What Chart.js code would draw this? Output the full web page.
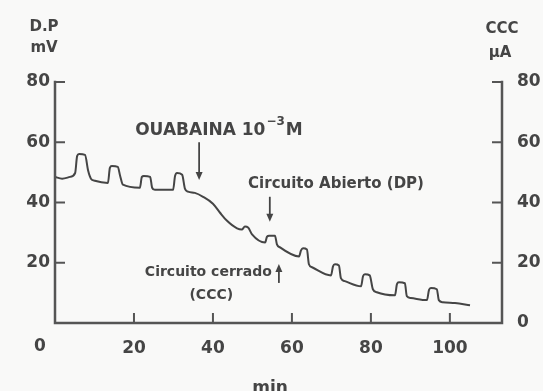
<!DOCTYPE html>
<html>
<head>
<meta charset="utf-8">
<script src="https://cdn.jsdelivr.net/npm/chart.js@4/dist/chart.umd.min.js"></script>
<style>
    body { margin: 0; background: #f9f9f8; }
    canvas { display: block; }
</style>
</head>
<body>
<canvas id="dpChart" width="543" height="391"></canvas>
<script>
// tiempo (min) y potencial de membrana / corriente de cortocircuito
const minutos = [0, 1.8, 3.8, 5.1, 5.6, 6.1, 7.6, 8.4, 9.1, 10.1, 13.4, 13.9, 14.4, 15.9, 16.5, 17.2,
    21.5, 22.0, 22.5, 24.1, 24.6, 25.3, 29.9, 30.4, 30.9, 32.2, 32.9, 33.7, 35.4, 37.5, 40.0, 41.8,
    43.5, 46.1, 47.3, 48.1, 48.9, 49.9, 53.2, 53.7, 54.2, 55.7, 56.2, 57.0, 61.8, 62.3, 62.8, 63.8,
    64.3, 65.1, 69.9, 70.4, 70.9, 71.9, 72.4, 73.4, 77.5, 78.0, 78.5, 79.7, 80.5, 81.5, 86.1, 86.6,
    87.1, 88.6, 89.1, 90.1, 94.2, 94.7, 95.2, 96.7, 97.2, 98.2, 101.3, 105.1];
const dpValores = [48.5, 47.9, 48.5, 49.8, 55.4, 56.1, 55.8, 50.5, 47.9, 47.2, 46.5, 51.5, 52.1, 51.8, 48.8, 45.9,
    44.9, 48.5, 48.8, 48.5, 44.9, 44.2, 44.2, 48.8, 49.8, 49.2, 44.6, 43.6, 43.2, 41.9, 39.6, 36.6,
    34.0, 31.4, 31.0, 32.0, 31.7, 29.4, 26.7, 28.7, 29.0, 29.0, 26.1, 25.1, 22.1, 24.1, 24.8, 24.4,
    19.5, 18.5, 15.8, 18.8, 19.5, 19.1, 14.9, 13.9, 12.2, 15.5, 16.2, 15.8, 11.2, 10.2, 9.2, 12.9,
    13.5, 13.2, 8.9, 8.3, 7.6, 10.9, 11.6, 11.2, 7.6, 6.9, 6.6, 5.9];

const xTicks = [20, 40, 60, 80, 100];
const yTicksLeft = [20, 40, 60, 80];
const yTicksRight = [0, 20, 40, 60, 80];

const INK = '#454545';
const AXIS = '#555';
const FONT = 'DejaVu Sans';

/**
 * Draws the axis frame with inward ticks, the labels and the arrows.
 */
const framePlugin = {
    id: 'frame',
    beforeDraw(chart) {
        const ctx = chart.ctx;
        ctx.save();
        ctx.fillStyle = '#f9f9f8';
        ctx.fillRect(0, 0, chart.width, chart.height);
        ctx.restore();
    },
    afterDraw(chart) {
        const ctx = chart.ctx;
        const x = chart.scales.x;
        const y = chart.scales.y;
        const y2 = chart.scales.y2;
        const left = x.getPixelForValue(0);
        const right = x.right;
        const top = y.getPixelForValue(80);
        const bottom = y.getPixelForValue(0);
        const tick = 10;

        ctx.save();
        ctx.strokeStyle = AXIS;
        ctx.lineWidth = 2.5;
        ctx.lineCap = 'square';
        ctx.beginPath();
        ctx.moveTo(left, top);
        ctx.lineTo(left, bottom);
        ctx.lineTo(right, bottom);
        ctx.lineTo(right, top);
        ctx.stroke();

        ctx.lineWidth = 2;
        ctx.lineCap = 'butt';
        ctx.beginPath();
        yTicksLeft.forEach(v => {
            const py = y.getPixelForValue(v);
            ctx.moveTo(left, py);
            ctx.lineTo(left + tick, py);
        });
        yTicksLeft.forEach(v => {
            const py = y2.getPixelForValue(v);
            ctx.moveTo(right, py);
            ctx.lineTo(right - tick, py);
        });
        xTicks.forEach(v => {
            const px = x.getPixelForValue(v);
            ctx.moveTo(px, bottom);
            ctx.lineTo(px, bottom - tick);
        });
        ctx.stroke();

        ctx.fillStyle = INK;
        ctx.textAlign = 'center';
        ctx.textBaseline = 'middle';
        ctx.font = `bold 17px "${FONT}"`;
        ctx.fillText('0', 40, 347);
        ctx.textBaseline = 'alphabetic';
        ctx.fillText('min', 270, 393);

        ctx.font = `bold 15px "${FONT}"`;
        ctx.fillText('D.P', 44, 31);
        ctx.fillText('mV', 44, 52);
        ctx.fillText('CCC', 502, 33);
        ctx.fillText('\u00b5A', 500, 57);

        // OUABAINA 10^-3 M
        const px = v => x.getPixelForValue(v);
        const py = v => y.getPixelForValue(v);
        ctx.textAlign = 'left';
        ctx.font = `bold 17px "${FONT}"`;
        let tx = px(20.3);
        const base = py(62.5);
        ctx.fillText('OUABAINA 10', tx, base);
        tx += ctx.measureText('OUABAINA 10').width + 1;
        ctx.font = `bold 12px "${FONT}"`;
        ctx.fillText('\u22123', tx, base - 10);
        tx += ctx.measureText('\u22123').width + 1;
        ctx.font = `bold 17px "${FONT}"`;
        ctx.fillText('M', tx, base);

        ctx.font = `bold 15px "${FONT}"`;
        ctx.fillText('Circuito Abierto (DP)', px(48.9), py(44.9));
        ctx.textAlign = 'right';
        ctx.font = `bold 14px "${FONT}"`;
        ctx.fillText('Circuito cerrado', px(54.9), py(15.6));
        ctx.fillText('(CCC)', px(45.1), py(7.9));

        drawArrow(ctx, px(36.5), py(60), py(47.5));
        drawArrow(ctx, px(54.4), py(41.9), py(33.6));
        drawArrow(ctx, px(56.7), py(13.3), py(19.6));
        ctx.restore();
    }
};

/**
 * Vertical arrow from y0 to y1, head at y1.
 */
function drawArrow(ctx, x, y0, y1) {
    const dir = y1 > y0 ? 1 : -1;
    ctx.strokeStyle = INK;
    ctx.fillStyle = INK;
    ctx.lineWidth = 1.8;
    ctx.beginPath();
    ctx.moveTo(x, y0);
    ctx.lineTo(x, y1 - dir * 5);
    ctx.stroke();
    ctx.beginPath();
    ctx.moveTo(x, y1);
    ctx.lineTo(x - 3.5, y1 - dir * 8);
    ctx.lineTo(x + 3.5, y1 - dir * 8);
    ctx.closePath();
    ctx.fill();
}

const tickFont = { family: FONT, size: 17, weight: 'bold' };

new Chart(document.getElementById('dpChart'), {
    type: 'line',
    data: {
        datasets: [{
            data: minutos.map((m, i) => ({ x: m, y: dpValores[i] })),
            borderColor: INK,
            borderWidth: 2,
            pointRadius: 0,
            cubicInterpolationMode: 'monotone',
            yAxisID: 'y'
        }]
    },
    options: {
        responsive: false,
        animation: false,
        layout: { padding: { top: 82, left: 0, right: 0, bottom: 0 } },
        plugins: { legend: { display: false }, tooltip: { enabled: false } },
        scales: {
            x: {
                type: 'linear',
                min: 0,
                max: 113.2,
                afterFit: s => { s.height = 68; },
                grid: { display: false, drawTicks: false },
                border: { display: false },
                ticks: {
                    stepSize: 20,
                    includeBounds: false,
                    padding: 15,
                    autoSkip: false,
                    maxRotation: 0,
                    font: tickFont,
                    color: INK,
                    callback: v => xTicks.includes(v) ? String(v) : ''
                }
            },
            y: {
                position: 'left',
                min: 0,
                max: 80,
                afterFit: s => { s.width = 55; },
                grid: { display: false, drawTicks: false },
                border: { display: false },
                ticks: {
                    stepSize: 20,
                    padding: 5,
                    font: tickFont,
                    color: INK,
                    callback: v => yTicksLeft.includes(v) ? String(v) : ''
                }
            },
            y2: {
                position: 'right',
                min: 0,
                max: 80,
                afterFit: s => { s.width = 41; },
                grid: { display: false, drawTicks: false },
                border: { display: false },
                ticks: {
                    stepSize: 20,
                    padding: 15,
                    font: tickFont,
                    color: INK,
                    callback: v => yTicksRight.includes(v) ? String(v) : ''
                }
            }
        }
    },
    plugins: [framePlugin]
});
</script>
</body>
</html>
